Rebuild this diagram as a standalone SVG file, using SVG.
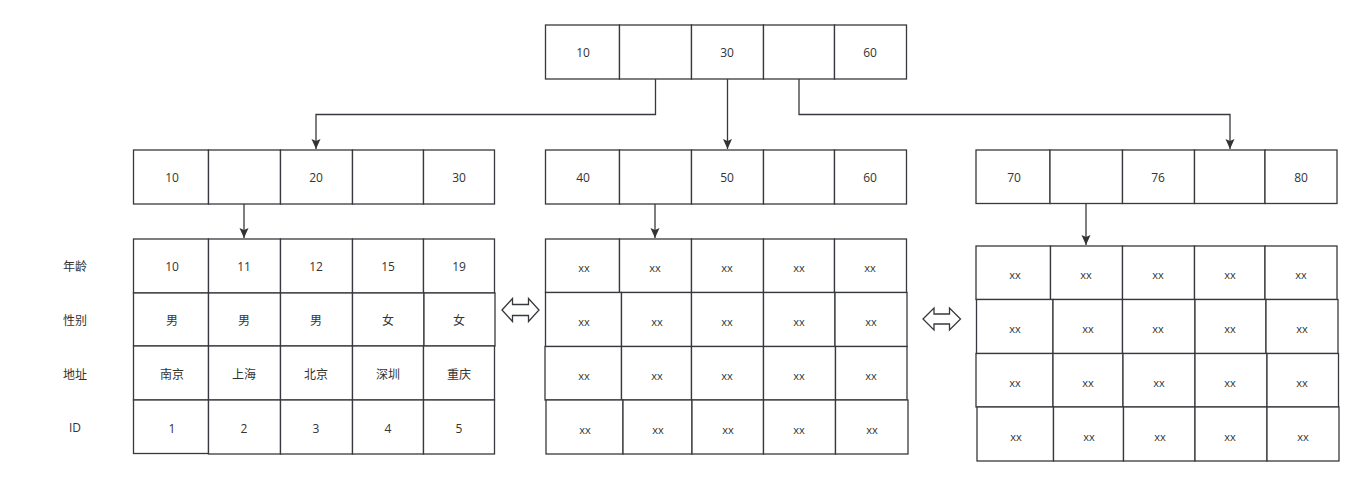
<svg xmlns="http://www.w3.org/2000/svg" width="1364" height="486" viewBox="0 0 1364 486">
<style>
rect.c{fill:#fff;stroke:#36393d;stroke-width:1.3}
text{font-family:"Open Sans","Liberation Sans","Noto Sans CJK SC",sans-serif;font-size:12px;fill:#333;text-anchor:middle;dominant-baseline:central}
text.x{font-size:11px}
.ln{fill:none;stroke:#36393d;stroke-width:1.3}
.da{fill:#fff;stroke:#36393d;stroke-width:1.3;stroke-linejoin:miter}
</style>
<defs>
<marker id="ah" markerUnits="userSpaceOnUse" markerWidth="12" markerHeight="10" refX="10" refY="5" orient="auto">
<path d="M0,0.5 L10,5 L0,9.5 L2,5 Z" fill="#333"/>
</marker>
</defs>
<rect width="1364" height="486" fill="#fff"/>

<g id="root">
<rect class="c" x="545.5" y="25" width="74" height="54"/>
<rect class="c" x="619.5" y="25" width="72" height="54"/>
<rect class="c" x="691.5" y="25" width="72" height="54"/>
<rect class="c" x="763.5" y="25" width="71" height="54"/>
<rect class="c" x="834.5" y="25" width="72" height="54"/>
<text x="583" y="52">10</text>
<text x="727" y="52">30</text>
<text x="870" y="52">60</text>
</g>

<g id="node-left">
<rect class="c" x="133.5" y="150" width="75" height="54"/>
<rect class="c" x="208.5" y="150" width="72" height="54"/>
<rect class="c" x="280.5" y="150" width="72" height="54"/>
<rect class="c" x="352.5" y="150" width="71" height="54"/>
<rect class="c" x="423.5" y="150" width="71" height="54"/>
<text x="172" y="177">10</text>
<text x="316" y="177">20</text>
<text x="459" y="177">30</text>
</g>

<g id="node-mid">
<rect class="c" x="545.5" y="150" width="74" height="54"/>
<rect class="c" x="619.5" y="150" width="72" height="54"/>
<rect class="c" x="691.5" y="150" width="72" height="54"/>
<rect class="c" x="763.5" y="150" width="71" height="54"/>
<rect class="c" x="834.5" y="150" width="72" height="54"/>
<text x="583" y="177">40</text>
<text x="727" y="177">50</text>
<text x="870" y="177">60</text>
</g>

<g id="node-right">
<rect class="c" x="976" y="150" width="74" height="53.5"/>
<rect class="c" x="1050" y="150" width="72.5" height="53.5"/>
<rect class="c" x="1122.5" y="150" width="72" height="53.5"/>
<rect class="c" x="1194.5" y="150" width="70.5" height="53.5"/>
<rect class="c" x="1265" y="150" width="72" height="53.5"/>
<text x="1014" y="177">70</text>
<text x="1158" y="177">76</text>
<text x="1301" y="177">80</text>
</g>

<g id="row-labels">
<text x="75" y="266">年龄</text>
<text x="75" y="320">性别</text>
<text x="75" y="374">地址</text>
<text x="75" y="427">ID</text>
</g>

<g id="table-left">
<rect class="c" x="133.5" y="239" width="75" height="54"/>
<rect class="c" x="208.5" y="239" width="72" height="54"/>
<rect class="c" x="280.5" y="239" width="72" height="54"/>
<rect class="c" x="352.5" y="239" width="71" height="54"/>
<rect class="c" x="423.5" y="239" width="71" height="54"/>
<rect class="c" x="133.5" y="293" width="75" height="53"/>
<rect class="c" x="208.5" y="293" width="72" height="53"/>
<rect class="c" x="280.5" y="293" width="72" height="53"/>
<rect class="c" x="352.5" y="293" width="71.5" height="53"/>
<rect class="c" x="424" y="293" width="71" height="53"/>
<rect class="c" x="133.5" y="346" width="75" height="54"/>
<rect class="c" x="208.5" y="346" width="72" height="54"/>
<rect class="c" x="280.5" y="346" width="72" height="54"/>
<rect class="c" x="352.5" y="346" width="71" height="54"/>
<rect class="c" x="423.5" y="346" width="71" height="54"/>
<rect class="c" x="133.5" y="400" width="75" height="53.5"/>
<rect class="c" x="208.5" y="400" width="72" height="54"/>
<rect class="c" x="280.5" y="400" width="72" height="54"/>
<rect class="c" x="352.5" y="400" width="71" height="54"/>
<rect class="c" x="423.5" y="400" width="71" height="54"/>
<text x="172" y="266">10</text><text x="244" y="266">11</text><text x="316" y="266">12</text><text x="388" y="266">15</text><text x="459" y="266">19</text>
<text x="172" y="320">男</text><text x="244" y="320">男</text><text x="316" y="320">男</text><text x="388" y="320">女</text><text x="459" y="320">女</text>
<text x="172" y="374">南京</text><text x="244" y="374">上海</text><text x="316" y="374">北京</text><text x="388" y="374">深圳</text><text x="459" y="374">重庆</text>
<text x="172" y="428">1</text><text x="244" y="428">2</text><text x="316" y="428">3</text><text x="388" y="428">4</text><text x="459" y="428">5</text>
</g>

<g id="table-mid">
<rect class="c" x="545.5" y="239" width="74" height="53.5"/>
<rect class="c" x="619.5" y="239" width="72" height="53.5"/>
<rect class="c" x="691.5" y="239" width="72" height="53.5"/>
<rect class="c" x="763.5" y="239" width="71" height="53.5"/>
<rect class="c" x="834.5" y="239" width="72" height="53.5"/>
<rect class="c" x="545.5" y="292.5" width="76" height="54"/>
<rect class="c" x="621.5" y="292.5" width="70" height="54"/>
<rect class="c" x="691.5" y="292.5" width="72" height="54"/>
<rect class="c" x="763.5" y="292.5" width="71.5" height="54"/>
<rect class="c" x="835" y="292.5" width="72" height="54"/>
<rect class="c" x="545" y="346.5" width="76.5" height="53.5"/>
<rect class="c" x="621.5" y="346.5" width="70" height="53.5"/>
<rect class="c" x="691.5" y="346.5" width="72" height="53.5"/>
<rect class="c" x="763.5" y="346.5" width="72" height="53.5"/>
<rect class="c" x="835.5" y="346.5" width="71.5" height="53.5"/>
<rect class="c" x="546" y="400" width="77" height="54"/>
<rect class="c" x="623" y="400" width="69" height="54"/>
<rect class="c" x="692" y="400" width="71.5" height="54"/>
<rect class="c" x="763.5" y="400" width="72" height="54"/>
<rect class="c" x="835.5" y="400" width="72.5" height="54"/>
<text class="x" x="584" y="267">xx</text><text class="x" x="655" y="267">xx</text><text class="x" x="727" y="267">xx</text><text class="x" x="799" y="267">xx</text><text class="x" x="870" y="267">xx</text>
<text class="x" x="584" y="321">xx</text><text class="x" x="657" y="321">xx</text><text class="x" x="727" y="321">xx</text><text class="x" x="799" y="321">xx</text><text class="x" x="871" y="321">xx</text>
<text class="x" x="584" y="375">xx</text><text class="x" x="657" y="375">xx</text><text class="x" x="727" y="375">xx</text><text class="x" x="799" y="375">xx</text><text class="x" x="871" y="375">xx</text>
<text class="x" x="585" y="429">xx</text><text class="x" x="658" y="429">xx</text><text class="x" x="728" y="429">xx</text><text class="x" x="799" y="429">xx</text><text class="x" x="872" y="429">xx</text>
</g>

<g id="table-right">
<rect class="c" x="976" y="246" width="74.5" height="53.5"/>
<rect class="c" x="1050.5" y="246" width="72" height="53.5"/>
<rect class="c" x="1122.5" y="246" width="72" height="53.5"/>
<rect class="c" x="1194.5" y="246" width="70.5" height="53.5"/>
<rect class="c" x="1265" y="246" width="72" height="53.5"/>
<rect class="c" x="976.5" y="299.5" width="76.5" height="54"/>
<rect class="c" x="1053" y="299.5" width="69.5" height="54"/>
<rect class="c" x="1122.5" y="299.5" width="72.5" height="54"/>
<rect class="c" x="1195" y="299.5" width="71" height="54"/>
<rect class="c" x="1266" y="299.5" width="72" height="54"/>
<rect class="c" x="976" y="353.5" width="77" height="53.5"/>
<rect class="c" x="1053" y="353.5" width="70" height="53.5"/>
<rect class="c" x="1123" y="353.5" width="72" height="53.5"/>
<rect class="c" x="1195" y="353.5" width="72" height="53.5"/>
<rect class="c" x="1267" y="353.5" width="71.5" height="53.5"/>
<rect class="c" x="977" y="407" width="76.5" height="54"/>
<rect class="c" x="1053.5" y="407" width="70" height="54"/>
<rect class="c" x="1123.5" y="407" width="71.5" height="54"/>
<rect class="c" x="1195" y="407" width="72" height="54"/>
<rect class="c" x="1267" y="407" width="72" height="54"/>
<text class="x" x="1015" y="274">xx</text><text class="x" x="1086" y="274">xx</text><text class="x" x="1158" y="274">xx</text><text class="x" x="1230" y="274">xx</text><text class="x" x="1301" y="274">xx</text>
<text class="x" x="1015" y="328">xx</text><text class="x" x="1088" y="328">xx</text><text class="x" x="1158" y="328">xx</text><text class="x" x="1230" y="328">xx</text><text class="x" x="1302" y="328">xx</text>
<text class="x" x="1015" y="382">xx</text><text class="x" x="1088" y="382">xx</text><text class="x" x="1159" y="382">xx</text><text class="x" x="1230" y="382">xx</text><text class="x" x="1302" y="382">xx</text>
<text class="x" x="1016" y="436">xx</text><text class="x" x="1089" y="436">xx</text><text class="x" x="1160" y="436">xx</text><text class="x" x="1230" y="436">xx</text><text class="x" x="1303" y="436">xx</text>
</g>

<g id="link-arrow-1">
<path class="da" d="M502,310 L512.5,298.5 L512.5,304.5 L528.5,304.5 L528.5,298.5 L539,310 L528.5,321.5 L528.5,315.5 L512.5,315.5 L512.5,321.5 Z"/>
</g>
<g id="link-arrow-2">
<path class="da" d="M923,319 L934,308 L934,314 L949.5,314 L949.5,308 L960.5,319 L949.5,330 L949.5,324 L934,324 L934,330 Z"/>
</g>

<g id="connectors">
<path class="ln" d="M655.5,79 V114.5 H316 V149" marker-end="url(#ah)"/>
<path class="ln" d="M727.5,79 V149" marker-end="url(#ah)"/>
<path class="ln" d="M799,79 V114.5 H1230 V149" marker-end="url(#ah)"/>
<path class="ln" d="M244,204 V238" marker-end="url(#ah)"/>
<path class="ln" d="M655,204 V238" marker-end="url(#ah)"/>
<path class="ln" d="M1086,203.5 V245" marker-end="url(#ah)"/>
</g>
</svg>
